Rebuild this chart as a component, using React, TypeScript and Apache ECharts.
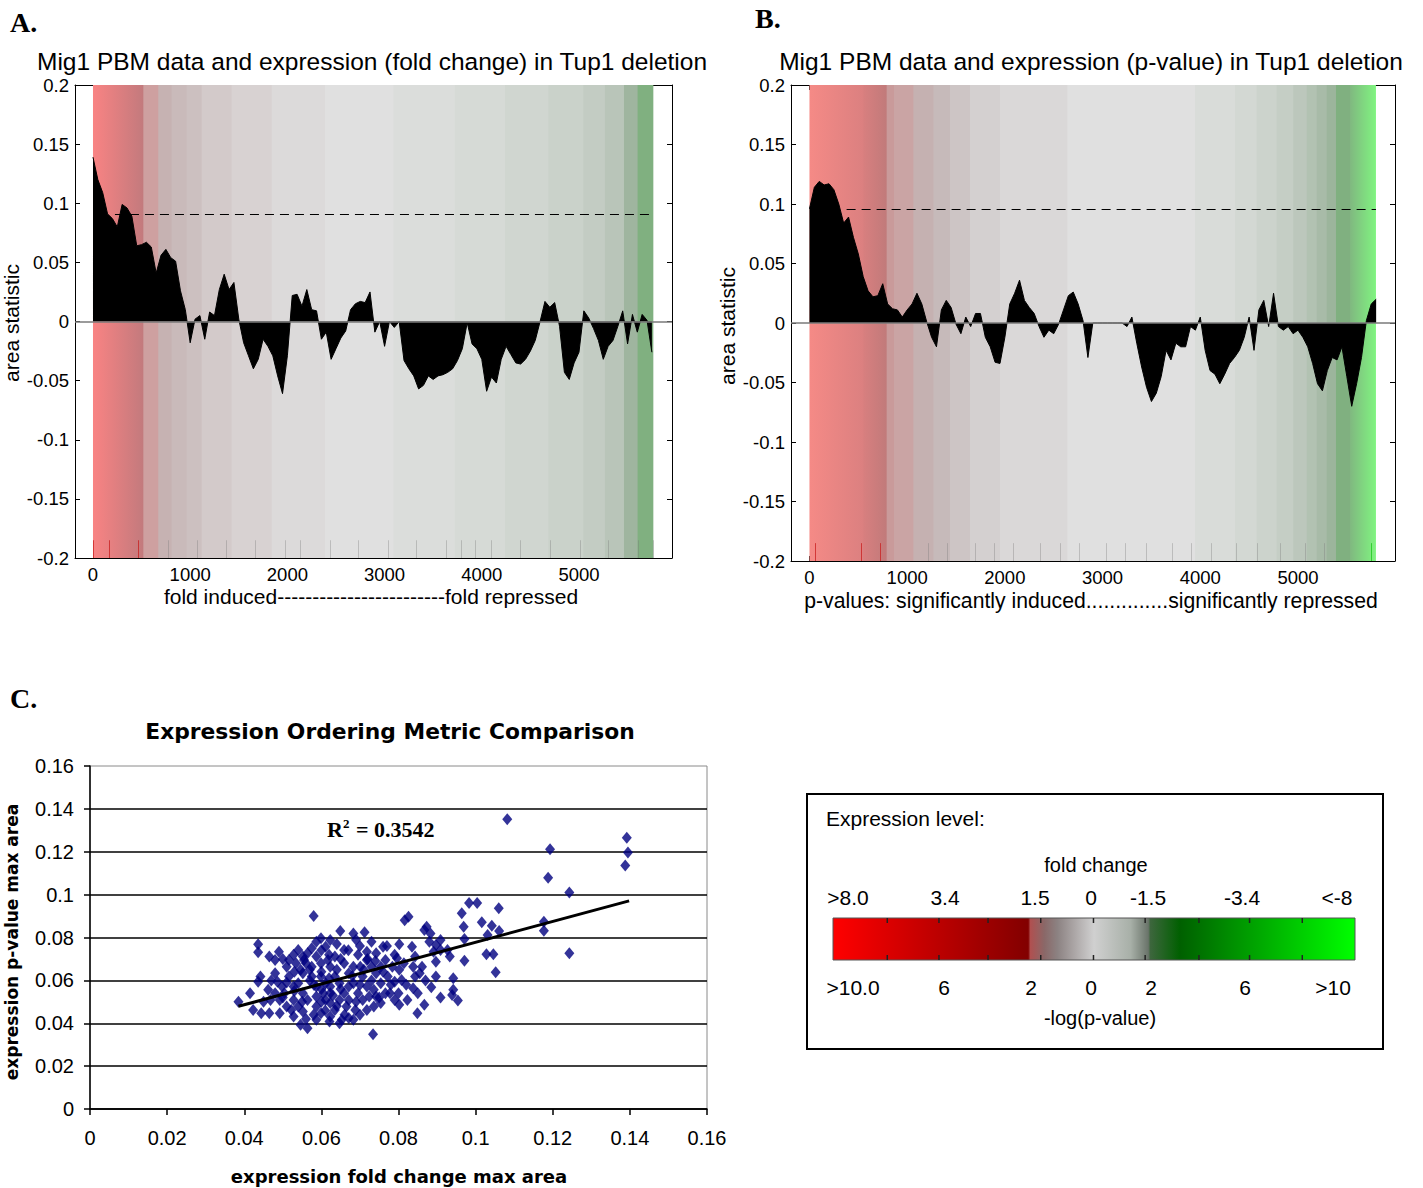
import React, { useEffect, useRef } from "react";
import * as echarts from "echarts";

// ---------- Panel A / B data (gene rank on x, area statistic on y) ----------
const rankStep = 50;
const areaA = [
  0.139, 0.12, 0.109, 0.091, 0.087, 0.08, 0.099, 0.096, 0.089, 0.064,
  0.065, 0.067, 0.063, 0.041, 0.056, 0.061, 0.054, 0.051, 0.026, 0.01,
  -0.018, 0.002, 0.005, -0.015, 0.008, 0.005, 0.027, 0.04, 0.027, 0.033,
  0.002, -0.018, -0.029, -0.04, -0.032, -0.015, -0.021, -0.029, -0.046, -0.061,
  -0.029, 0.022, 0.023, 0.013, 0.027, 0.01, 0.009, -0.015, -0.009, -0.032,
  -0.023, -0.014, -0.008, 0.01, 0.015, 0.017, 0.016, 0.025, -0.009, 0,
  -0.021, 0, -0.005, 0, -0.033, -0.04, -0.046, -0.057, -0.054, -0.046,
  -0.049, -0.046, -0.045, -0.043, -0.04, -0.033, -0.023, -0.001, -0.019, -0.023,
  -0.032, -0.059, -0.047, -0.052, -0.032, -0.021, -0.028, -0.035, -0.036, -0.032,
  -0.025, -0.016, 0, 0.017, 0.012, 0.016, -0.004, -0.043, -0.049, -0.035,
  -0.026, 0.009, 0.003, -0.006, -0.016, -0.032, -0.021, -0.016, -0.004, 0.009,
  -0.019, 0.006, -0.009, 0.006, 0.001, -0.026,
];
const areaB = [
  0.096, 0.114, 0.119, 0.116, 0.117, 0.112, 0.1, 0.084, 0.089, 0.072,
  0.058, 0.039, 0.027, 0.022, 0.023, 0.033, 0.016, 0.012, 0.011, 0.005,
  0.011, 0.016, 0.025, 0.016, 0.001, -0.012, -0.02, 0.011, 0.019, 0.013,
  -0.001, -0.009, 0.005, -0.003, 0.008, 0.008, -0.012, -0.02, -0.033, -0.034,
  -0.012, 0.016, 0.025, 0.036, 0.019, 0.013, 0.008, -0.003, -0.012, -0.006,
  -0.009, -0.001, 0.011, 0.023, 0.026, 0.016, 0.002, -0.029, 0, 0,
  0, 0, 0, 0, 0, -0.003, 0.005, -0.017, -0.037, -0.054,
  -0.066, -0.059, -0.045, -0.023, -0.031, -0.017, -0.02, -0.02, -0.003, -0.006,
  0.005, -0.023, -0.04, -0.043, -0.051, -0.043, -0.034, -0.029, -0.023, -0.012,
  0.005, -0.023, 0.011, 0.019, -0.003, 0.025, -0.003, -0.006, -0.003, -0.009,
  -0.006, -0.012, -0.02, -0.034, -0.051, -0.057, -0.04, -0.029, -0.031, -0.02,
  -0.045, -0.07, -0.051, -0.029, 0.002, 0.016, 0.02,
];
const thresholdA = { value: 0.0904, from: 226, to: 5765 };
const thresholdB = { value: 0.0954, from: 380, to: 5798 };

// expression-level colour bands behind the curves (rank edges)
const bandEdgesA = [0, 518, 672, 809, 964, 1118, 1427, 1838, 2387, 3090, 3724, 4239, 4685, 5045, 5267, 5463, 5603, 5765];
const bandColorsA: (string | string[])[] = [
  ["#f98383", "#c27a7d"], "#cea0a0", "#c6b2b2", "#c9baba", "#ccc0c0", "#d3caca", "#d8d2d2", "#dcdada",
  "#e0e0e0", "#dbdddb", "#d6dad6", "#d0d6d0", "#cad2ca", "#c3ccc3", "#b9c5b9", "#9fb59f", "#80b080",
];
const bandEdgesB = [0, 551, 790, 865, 1063, 1268, 1438, 1643, 1950, 2639, 3946, 4355, 4577, 4782, 4952, 5089, 5191, 5294, 5389, 5532, 5798];
const bandColorsB: (string | string[])[] = [
  ["#f58a86", "#db8080"], ["#d87f7f", "#c07a7a"], "#c99a9a", "#caa4a4", "#c5b1b1", "#c6baba", "#cdc5c5", "#d4d0d0", "#dad8d8",
  "#e0e0e0", "#d9dcd9", "#d3d8d3", "#ccd3cc", "#c5cec5", "#bcc7bc", "#b2c2b2", "#a8bba8", "#9cb59c", "#80b080",
  ["#80b880", "#80f480"],
];
const rugA = [3, 168, 466, 775, 1077, 1375, 1667, 1975, 2130, 2438, 2730, 3038, 3330, 3639, 3793, 3930, 4101, 4393, 4702, 5010, 5302, 5610, 5765];
const rugB = [56, 534, 729, 1216, 1414, 1694, 1888, 2086, 2366, 2564, 2762, 3042, 3237, 3444, 3717, 3912, 4117, 4372, 4584, 4816, 5079, 5270, 5747];

// ---------- Panel C data ----------
const scatterX = [
  0.1082, 0.1392, 0.1395, 0.1388, 0.1193, 0.1188, 0.1243, 0.1177, 0.1177, 0.1243,
  0.106, 0.0983, 0.1004, 0.0964, 0.0969, 0.1016, 0.1042, 0.1061, 0.1031, 0.0971,
  0.1028, 0.1046, 0.1052, 0.0971, 0.058, 0.0816, 0.0826, 0.0734, 0.0385, 0.0436,
  0.0436, 0.049, 0.048, 0.0465, 0.0415, 0.0423, 0.0444, 0.0465, 0.0486, 0.0442,
  0.0436, 0.0873, 0.0883, 0.0897, 0.0909, 0.0927, 0.0897, 0.0933, 0.0942, 0.0942,
  0.0939, 0.0954, 0.0909, 0.0885, 0.0849, 0.0867, 0.0802, 0.079, 0.0823, 0.0838,
  0.0843, 0.0838, 0.0843, 0.0835, 0.0802, 0.076, 0.0712, 0.0683, 0.0649, 0.0623,
  0.0599, 0.0587, 0.0659, 0.0695, 0.0718, 0.0742, 0.0766, 0.0784, 0.0802, 0.079,
  0.0766, 0.0754, 0.0778, 0.0742, 0.0718, 0.0707, 0.0695, 0.0671, 0.0683, 0.0671,
  0.0653, 0.0647, 0.0621, 0.0599, 0.0564, 0.0546, 0.0528, 0.051, 0.0492, 0.0504,
  0.0528, 0.0516, 0.051, 0.0534, 0.0552, 0.0564, 0.0575, 0.0611, 0.0635, 0.0623,
  0.0599, 0.0575, 0.0552, 0.054, 0.0552, 0.0564, 0.0587, 0.0611, 0.0623, 0.0647,
  0.0659, 0.0647, 0.0635, 0.0611, 0.0587, 0.0599, 0.0575, 0.0671, 0.0683, 0.0659,
  0.0742, 0.073, 0.0754, 0.0736, 0.0718, 0.0707, 0.0688, 0.0665, 0.0635, 0.0623,
  0.054, 0.048, 0.0468, 0.0492, 0.0528, 0.048, 0.0462, 0.0796, 0.0814, 0.0808,
  0.0861, 0.0855, 0.0897, 0.0891, 0.0867, 0.0909, 0.0617, 0.0587, 0.054, 0.0528,
  0.0516, 0.0546, 0.0581, 0.0623, 0.0683, 0.0701, 0.0718, 0.0754, 0.0772, 0.0736,
  0.0724, 0.0671, 0.0587, 0.0605, 0.0623, 0.0587, 0.0552, 0.0522, 0.0498,
  0.0555, 0.057, 0.06, 0.062, 0.064, 0.065, 0.067, 0.07, 0.072, 0.073,
  0.07, 0.069, 0.066, 0.061, 0.058, 0.056, 0.053, 0.051, 0.057, 0.06,
  0.063, 0.065, 0.068, 0.071, 0.074, 0.076, 0.078, 0.08, 0.082, 0.079,
  0.077, 0.073, 0.069, 0.064, 0.06, 0.056, 0.053, 0.05, 0.055, 0.06,
  0.064, 0.07, 0.075, 0.085, 0.087, 0.088, 0.045, 0.047, 0.05, 0.062,
];
const scatterY = [
  0.1352, 0.1265, 0.1197, 0.1136, 0.1212, 0.1079, 0.101, 0.0874, 0.0832, 0.0726,
  0.0936, 0.0961, 0.0961, 0.0913, 0.085, 0.0871, 0.0855, 0.083, 0.0812, 0.0793,
  0.0722, 0.0722, 0.0638, 0.0691, 0.09, 0.0881, 0.0897, 0.0349, 0.05, 0.0768,
  0.0731, 0.0734, 0.0695, 0.0711, 0.054, 0.0462, 0.0447, 0.0447, 0.0594, 0.0618,
  0.0594, 0.085, 0.0819, 0.0765, 0.0742, 0.0742, 0.0687, 0.0711, 0.061, 0.0556,
  0.0532, 0.0506, 0.052, 0.0568, 0.0447, 0.0486, 0.0486, 0.0509, 0.0509, 0.0563,
  0.0618, 0.0664, 0.0711, 0.0757, 0.0768, 0.0757, 0.0824, 0.0819, 0.083, 0.0788,
  0.0796, 0.078, 0.0742, 0.0719, 0.0734, 0.0726, 0.0695, 0.0664, 0.0649, 0.0594,
  0.054, 0.0494, 0.054, 0.0525, 0.0571, 0.0618, 0.054, 0.0571, 0.0416, 0.0424,
  0.0416, 0.04, 0.0408, 0.0447, 0.0377, 0.0393, 0.0431, 0.0478, 0.0509, 0.054,
  0.0571, 0.0618, 0.0664, 0.068, 0.0711, 0.0726, 0.075, 0.0757, 0.0711, 0.0664,
  0.068, 0.0664, 0.0633, 0.0587, 0.054, 0.0509, 0.0478, 0.0509, 0.054, 0.0509,
  0.054, 0.0587, 0.0618, 0.0587, 0.0571, 0.0618, 0.0618, 0.0633, 0.0664, 0.068,
  0.0633, 0.0664, 0.0587, 0.0478, 0.0462, 0.0509, 0.0462, 0.0478, 0.0462, 0.0494,
  0.0478, 0.054, 0.0509, 0.0447, 0.0509, 0.0633, 0.0556, 0.0703, 0.068, 0.0602,
  0.0664, 0.0633, 0.0618, 0.0734, 0.0835, 0.0788, 0.0695, 0.0711, 0.0742, 0.0719,
  0.0695, 0.0649, 0.0579, 0.0571, 0.0587, 0.0664, 0.0695, 0.0664, 0.0618, 0.0556,
  0.0525, 0.0509, 0.0525, 0.054, 0.0431, 0.0416, 0.0455, 0.0462, 0.0571,
  0.0695, 0.065, 0.064, 0.061, 0.065, 0.07, 0.074, 0.076, 0.07, 0.06,
  0.058, 0.05, 0.044, 0.046, 0.044, 0.042, 0.055, 0.059, 0.06, 0.056,
  0.053, 0.056, 0.062, 0.065, 0.069, 0.064, 0.058, 0.054, 0.058, 0.072,
  0.076, 0.078, 0.079, 0.077, 0.074, 0.068, 0.064, 0.052, 0.05, 0.05,
  0.048, 0.044, 0.052, 0.054, 0.06, 0.078, 0.05, 0.06, 0.07, 0.072,
];
const trendX = [0.0385, 0.1398];
const trendY = [0.0479, 0.0971];
const rSquared = "0.3542";

// ---------- colour key ----------
const foldLabels = [">8.0", "3.4", "1.5", "0", "-1.5", "-3.4", "<-8"];
const pvalLabels = [">10.0", "6", "2", "0", "2", "6", ">10"];
const keyStops = [
  { offset: 0, color: "#ff0000" },
  { offset: 0.374, color: "#820000" },
  { offset: 0.378, color: "#b05050" },
  { offset: 0.405, color: "#8a6868" },
  { offset: 0.43, color: "#8c8282" },
  { offset: 0.5, color: "#d0d0d0" },
  { offset: 0.57, color: "#a8b0a8" },
  { offset: 0.604, color: "#6a746a" },
  { offset: 0.608, color: "#3d663d" },
  { offset: 0.665, color: "#006000" },
  { offset: 1, color: "#00ff00" },
];
const keyTicks = [0.104, 0.203, 0.297, 0.398, 0.499, 0.598, 0.701, 0.798, 0.899];

const SANS = "Liberation Sans";
const SERIF = "Liberation Serif";
const DJV = "DejaVu Sans";

function fillOf(c: string | string[]) {
  if (Array.isArray(c)) {
    return new echarts.graphic.LinearGradient(0, 0, 1, 0, [
      { offset: 0, color: c[0] },
      { offset: 1, color: c[1] },
    ]);
  }
  return c;
}

function bandAreas(edges: number[], colors: (string | string[])[]) {
  const last = colors.length - 1;
  return colors.map((c, i) => [
    { coord: [edges[i], -0.2], itemStyle: { color: fillOf(c), borderWidth: 0 } },
    // tiny overlap with the next band hides anti-aliasing seams
    { coord: [i < last ? edges[i + 1] + 8 : edges[i + 1], 0.2] },
  ]);
}

function rugLines(pos: number[], redCount: number, greenLast: boolean) {
  return pos.map((x, i) => {
    let color = "rgba(120,120,120,0.35)";
    if (i < redCount) color = "rgba(200,30,30,0.75)";
    if (greenLast && i === pos.length - 1) color = "rgba(30,200,30,0.8)";
    return [
      { coord: [x, -0.2], lineStyle: { color, width: 1, type: "solid" } },
      { coord: [x, -0.185] },
    ];
  });
}

function matlabAxes(grid: number, min: number, max: number) {
  const lineStyle = { color: "#000", width: 1 };
  const xLabel = {
    show: true,
    margin: 7,
    color: "#000",
    fontFamily: SANS,
    fontSize: 18.5,
    showMinLabel: false,
    showMaxLabel: false,
    formatter: (v: number) => (Math.abs(v % 1000) < 1e-6 ? String(Math.round(v)) : ""),
  };
  const xTop = {
    gridIndex: grid, type: "value", min, max, position: "top",
    axisLine: { show: true, onZero: false, lineStyle },
    axisTick: { show: true, inside: true, length: 5, lineStyle },
    axisLabel: { show: false },
    splitLine: { show: false },
  };
  const xBottom = {
    gridIndex: grid, type: "value", min, max, position: "bottom",
    axisLine: { show: true, onZero: false, lineStyle },
    axisTick: { show: true, inside: true, length: 5, lineStyle },
    axisLabel: xLabel,
    splitLine: { show: false },
  };
  const yLeft = {
    gridIndex: grid, type: "value", min: -0.2, max: 0.2, interval: 0.05, position: "left",
    axisLine: { show: true, onZero: false, lineStyle },
    axisTick: { show: true, inside: true, length: 5, lineStyle },
    axisLabel: {
      show: true, margin: 6, color: "#000", fontFamily: SANS, fontSize: 18.5,
      formatter: (v: number) => String(Number(v.toFixed(2))),
    },
    splitLine: { show: false },
  };
  const yRight = {
    gridIndex: grid, type: "value", min: -0.2, max: 0.2, interval: 0.05, position: "right",
    axisLine: { show: true, onZero: false, lineStyle },
    axisTick: { show: true, inside: true, length: 5, lineStyle },
    axisLabel: { show: false },
    splitLine: { show: false },
  };
  return { xBottom, xTop, yLeft, yRight };
}

function panelSeries(
  axisIdx: number,
  values: number[],
  edges: number[],
  colors: (string | string[])[],
  rug: number[],
  redCount: number,
  greenLast: boolean,
  thr: { value: number; from: number; to: number }
) {
  const bg = {
    type: "line",
    xAxisIndex: axisIdx,
    yAxisIndex: axisIdx,
    data: [[0, 0]],
    symbol: "none",
    lineStyle: { width: 0, opacity: 0 },
    silent: true,
    z: 1,
    markArea: { silent: true, data: bandAreas(edges, colors) },
    markLine: { silent: true, symbol: ["none", "none"], label: { show: false }, data: rugLines(rug, redCount, greenLast) },
  };
  const area = {
    type: "line",
    xAxisIndex: axisIdx,
    yAxisIndex: axisIdx,
    data: values.map((v, i) => [i * rankStep, v]),
    symbol: "none",
    showSymbol: false,
    lineStyle: { color: "#000", width: 1 },
    areaStyle: { color: "#000", opacity: 1, origin: 0 },
    silent: true,
    z: 3,
    markLine: {
      silent: true,
      symbol: ["none", "none"],
      label: { show: false },
      data: [
        { yAxis: 0, lineStyle: { color: "#7a7a7a", width: 1.5, type: "solid" } },
        [
          { coord: [thr.from, thr.value], lineStyle: { color: "#000", width: 1.2, type: [9, 6] } },
          { coord: [thr.to, thr.value] },
        ],
      ],
    },
  };
  return [bg, area];
}

function txt(x: number, y: number, text: string, size: number, opts: any = {}) {
  return {
    type: "text",
    x,
    y,
    rotation: opts.rotation || 0,
    silent: true,
    z: 50,
    style: {
      text,
      fill: "#000",
      fontSize: size,
      fontFamily: opts.family || SANS,
      fontWeight: opts.weight || "normal",
      align: opts.align || "center",
      verticalAlign: "middle",
      rich: opts.rich,
    },
  };
}

function buildOption() {
  const a = matlabAxes(0, -185, 5957);
  const b = matlabAxes(1, -189, 5993);

  const cAxisLine = { show: true, onZero: false, lineStyle: { color: "#000", width: 1.5 } };
  const cX = {
    gridIndex: 2, type: "value", min: 0, max: 0.16, interval: 0.02,
    axisLine: cAxisLine,
    axisTick: { show: true, inside: false, length: 6, lineStyle: { color: "#000", width: 1.5 } },
    axisLabel: {
      margin: 19, color: "#000", fontFamily: SANS, fontSize: 20,
      formatter: (v: number) => String(Number(v.toFixed(2))),
    },
    splitLine: { show: false },
  };
  const cY = {
    gridIndex: 2, type: "value", min: 0, max: 0.16, interval: 0.02,
    axisLine: cAxisLine,
    axisTick: { show: true, inside: false, length: 6, lineStyle: { color: "#000", width: 1.5 } },
    axisLabel: {
      margin: 16, color: "#000", fontFamily: SANS, fontSize: 20,
      formatter: (v: number) => String(Number(v.toFixed(2))),
    },
    splitLine: { show: true, showMaxLine: false, lineStyle: { color: "#000", width: 1.6 } },
  };

  const keyX = 833;
  const keyW = 522;
  const keyY = 918;
  const keyH = 42;
  const foldX = [848, 945, 1035, 1091, 1148, 1242, 1337];
  const pvalX = [853, 944, 1031, 1091, 1151, 1245, 1333];

  const graphics: any[] = [
    // panel letters
    txt(10, 22, "A.", 28, { family: SERIF, weight: "bold", align: "left" }),
    txt(755, 18, "B.", 28, { family: SERIF, weight: "bold", align: "left" }),
    txt(10, 698, "C.", 28, { family: SERIF, weight: "bold", align: "left" }),
    // panel A texts
    txt(372, 61, "Mig1 PBM data and expression (fold change) in Tup1 deletion", 24.5),
    txt(371, 596, "fold induced------------------------fold repressed", 21),
    txt(11, 323, "area statistic", 21, { rotation: Math.PI / 2 }),
    // panel B texts
    txt(1091, 61, "Mig1 PBM data and expression (p-value) in Tup1 deletion", 24.5),
    txt(1091, 600, "p-values: significantly induced..............significantly repressed", 21.2),
    txt(727, 326, "area statistic", 21, { rotation: Math.PI / 2 }),
    // panel C texts
    txt(390, 731, "Expression Ordering Metric Comparison", 21.8, { family: DJV, weight: "bold" }),
    txt(399, 1176, "expression fold change max area", 18, { family: DJV, weight: "bold" }),
    txt(12, 942, "expression p-value max area", 17, { family: DJV, weight: "bold", rotation: Math.PI / 2 }),
    txt(327, 829, "{r|R}{s|2}{r| = " + rSquared + "}", 22, {
      family: SERIF,
      weight: "bold",
      align: "left",
      rich: {
        r: { fontSize: 22, fontFamily: SERIF, fontWeight: "bold", fill: "#000" },
        s: { fontSize: 13, fontFamily: SERIF, fontWeight: "bold", fill: "#000", verticalAlign: "top", padding: [0, 1, 11, 0] },
      },
    }),
    // colour key
    {
      type: "rect",
      silent: true,
      z: 20,
      shape: { x: 807, y: 794, width: 576, height: 255 },
      style: { fill: "#fff", stroke: "#000", lineWidth: 2 },
    },
    txt(826, 818, "Expression level:", 21, { align: "left" }),
    txt(1096, 865, "fold change", 20),
    txt(1100, 1018, "-log(p-value)", 20),
    {
      type: "rect",
      silent: true,
      z: 30,
      shape: { x: keyX, y: keyY, width: keyW, height: keyH },
      style: { fill: new echarts.graphic.LinearGradient(0, 0, 1, 0, keyStops), stroke: "#555", lineWidth: 1 },
    },
  ];
  foldLabels.forEach((t, i) => graphics.push(txt(foldX[i], 897, t, 21)));
  pvalLabels.forEach((t, i) => graphics.push(txt(pvalX[i], 987, t, 21)));
  keyTicks.forEach((f) => {
    const x = keyX + keyW * f;
    graphics.push({
      type: "line", silent: true, z: 31,
      shape: { x1: x, y1: keyY, x2: x, y2: keyY + 5 },
      style: { stroke: "#222", lineWidth: 1.5 },
    });
    graphics.push({
      type: "line", silent: true, z: 31,
      shape: { x1: x, y1: keyY + keyH - 5, x2: x, y2: keyY + keyH },
      style: { stroke: "#222", lineWidth: 1.5 },
    });
  });

  return {
    animation: false,
    backgroundColor: "#fff",
    grid: [
      { left: 75, top: 85, width: 597, height: 473, show: false },
      { left: 791, top: 85, width: 604, height: 476, show: false },
      { left: 90, top: 766, width: 617, height: 343, show: true, borderColor: "#8a8a8a", borderWidth: 1, backgroundColor: "#fff" },
    ],
    xAxis: [a.xBottom, a.xTop, b.xBottom, b.xTop, cX],
    yAxis: [a.yLeft, a.yRight, b.yLeft, b.yRight, cY],
    series: [
      ...panelSeries(0, areaA, bandEdgesA, bandColorsA, rugA, 3, false, thresholdA),
      ...panelSeries(2, areaB, bandEdgesB, bandColorsB, rugB, 3, true, thresholdB),
      {
        type: "scatter",
        xAxisIndex: 4,
        yAxisIndex: 4,
        data: scatterX.map((x, i) => [x, scatterY[i]]),
        symbol: "diamond",
        symbolSize: [10, 12],
        itemStyle: { color: "#000080" },
        silent: true,
        z: 3,
      },
      {
        type: "line",
        xAxisIndex: 4,
        yAxisIndex: 4,
        data: trendX.map((x, i) => [x, trendY[i]]),
        symbol: "none",
        lineStyle: { color: "#000", width: 3 },
        silent: true,
        z: 4,
      },
    ],
    graphic: graphics,
  };
}

export default function App() {
  const ref = useRef<HTMLDivElement>(null);
  useEffect(() => {
    if (!ref.current) return;
    const chart = echarts.init(ref.current, null, { renderer: "svg" });
    chart.setOption(buildOption() as any);
    return () => chart.dispose();
  }, []);
  return (
    <div
      ref={ref}
      style={{ position: "absolute", left: 0, top: 0, width: 1423, height: 1188, background: "#fff" }}
    />
  );
}
